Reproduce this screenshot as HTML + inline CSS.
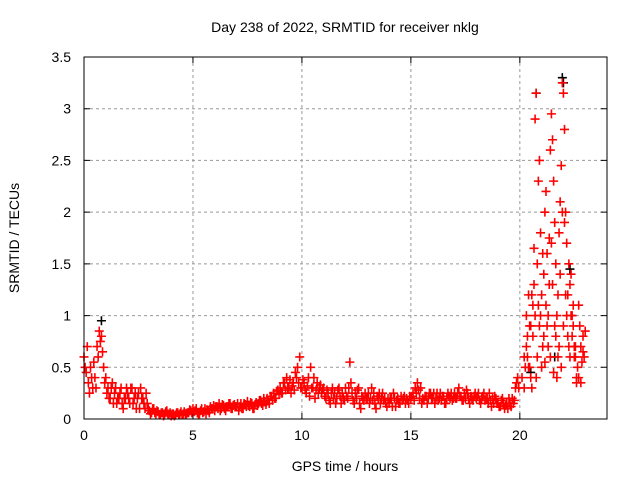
<!DOCTYPE html>
<html><head><meta charset="utf-8"><style>
body{margin:0;background:#fff}
svg text{font-family:"Liberation Sans",sans-serif;font-size:14px;fill:#000}
</style></head><body>
<svg id="chart" width="640" height="480">
<text x="345" y="32" text-anchor="middle">Day 238 of 2022, SRMTID for receiver nklg</text>
<text x="345" y="471" text-anchor="middle">GPS time / hours</text>
<text transform="translate(19,238) rotate(-90)" text-anchor="middle">SRMTID / TECUs</text>
<g id="grid"></g><g id="ticks"></g><g id="black"></g><g id="red"></g>
<rect x="84" y="57" width="523" height="362" fill="none" stroke="#000"/>
</svg>
<script>
const xTicks=[0,5,10,15,20];
const yTicks=[0,0.5,1,1.5,2,2.5,3,3.5];
const yTickLabels=["0","0.5","1","1.5","2","2.5","3","3.5"];
const baseStart=0, baseStep=0.1;
const baseValues=[0.6,0.45,0.35,0.5,0.3,0.4,0.7,0.85,0.8,0.5,
0.4,0.3,0.2,0.35,0.25,0.15,0.2,0.3,0.1,0.2,
0.25,0.15,0.3,0.2,0.1,0.25,0.3,0.2,0.1,0.15,
0.08,0.06,0.1,0.05,0.07,0.04,0.06,0.05,0.08,0.04,
0.03,0.05,0.04,0.06,0.05,0.04,0.07,0.05,0.06,0.08,
0.1,0.08,0.06,0.05,0.1,0.07,0.05,0.08,0.12,0.1,
0.08,0.12,0.15,0.1,0.13,0.08,0.12,0.15,0.1,0.14,
0.12,0.08,0.15,0.1,0.14,0.17,0.12,0.15,0.1,0.16,
0.15,0.18,0.13,0.17,0.2,0.15,0.22,0.25,0.2,0.28,
0.3,0.25,0.35,0.4,0.3,0.25,0.35,0.45,0.5,0.6,
0.3,0.35,0.25,0.4,0.5,0.3,0.2,0.35,0.3,0.25,
0.3,0.2,0.25,0.15,0.3,0.25,0.2,0.3,0.15,0.2,
0.3,0.2,0.55,0.25,0.15,0.2,0.3,0.1,0.2,0.25,
0.2,0.15,0.3,0.25,0.1,0.2,0.15,0.25,0.2,0.12,
0.15,0.2,0.25,0.12,0.2,0.15,0.18,0.22,0.2,0.15,
0.2,0.25,0.3,0.35,0.2,0.15,0.18,0.22,0.2,0.25,
0.2,0.15,0.25,0.2,0.18,0.22,0.15,0.25,0.2,0.18,
0.25,0.2,0.3,0.22,0.18,0.2,0.25,0.15,0.2,0.22,
0.2,0.25,0.15,0.22,0.18,0.2,0.25,0.12,0.15,0.2,
0.15,0.12,0.2,0.1,0.15,0.2,0.12,0.15,0.3,0.4];
const baseValues2=[0.5,0.7,0.25,0.4,0.55,0.3,0.6,0.75,0.65,0.35,
0.25,0.2,0.3,0.15,0.3,0.2,0.25,0.15,0.2,0.3,
0.2,0.3,0.15,0.25,0.2,0.1,0.2,0.15,0.25,0.1,
0.05,0.1,0.06,0.08,0.04,0.06,0.03,0.07,0.05,0.06,
0.05,0.03,0.06,0.04,0.07,0.05,0.04,0.06,0.09,0.06,
0.07,0.1,0.05,0.08,0.06,0.1,0.09,0.06,0.1,0.13,
0.12,0.1,0.08,0.14,0.1,0.12,0.15,0.1,0.13,0.12,
0.15,0.12,0.1,0.15,0.12,0.13,0.16,0.1,0.14,0.13,
0.18,0.15,0.2,0.14,0.18,0.22,0.18,0.2,0.27,0.24,
0.25,0.35,0.28,0.3,0.38,0.32,0.28,0.4,0.35,0.3,
0.38,0.28,0.32,0.22,0.3,0.4,0.28,0.25,0.33,0.28,
0.22,0.28,0.18,0.25,0.2,0.15,0.28,0.22,0.25,0.18,
0.22,0.3,0.35,0.18,0.25,0.28,0.15,0.22,0.18,0.2,
0.25,0.2,0.18,0.15,0.22,0.25,0.2,0.18,0.15,0.2,
0.2,0.12,0.2,0.18,0.15,0.22,0.2,0.15,0.18,0.22,
0.22,0.18,0.25,0.28,0.3,0.2,0.22,0.15,0.25,0.2,
0.25,0.2,0.18,0.25,0.22,0.15,0.2,0.22,0.25,0.2,
0.2,0.25,0.22,0.18,0.25,0.28,0.2,0.22,0.18,0.25,
0.22,0.18,0.2,0.25,0.2,0.15,0.18,0.2,0.22,0.15,
0.12,0.18,0.15,0.13,0.1,0.15,0.2,0.18,0.35,0.3];
const stormT=[20.1,20.2,20.3,20.35,20.4,20.45,20.5,20.55,20.6,20.65,20.7,20.75,20.8,20.85,20.9,20.95,21.0,21.05,21.1,21.15,21.2,21.25,21.3,21.35,21.4,21.45,21.5,21.55,21.6,21.65,21.7,21.75,21.8,21.85,21.9,21.95,22.0,22.05,22.1,22.15,22.2,22.25,22.3,22.35,22.4,22.45,22.5,22.55,22.6,22.65,
20.2,20.3,20.4,20.5,20.6,20.7,20.8,20.9,21.0,21.1,21.2,21.3,21.4,21.5,21.6,21.7,21.8,21.9,22.0,22.1,22.2,22.3,22.4,22.5,22.6,
20.25,20.45,20.65,20.85,21.05,21.25,21.45,21.65,21.85,22.05,22.25,22.45,22.55,
22.7,22.75,22.8,22.85,22.9,22.95,23.0,22.7,22.8,22.9,
20.35,20.55,20.75,20.95,21.15,21.35,21.55,21.75,21.95,22.15,22.35];
const stormV=[0.4,0.6,1.0,0.8,1.2,0.5,0.9,0.3,1.1,1.65,2.9,3.15,1.5,2.3,2.5,1.8,1.2,0.7,1.4,2.0,2.2,1.6,1.0,1.3,2.6,2.95,2.7,2.3,1.9,1.5,1.0,0.6,1.8,2.1,2.45,3.25,3.15,2.8,2.0,1.7,1.2,1.5,1.3,1.0,0.8,1.1,0.6,0.7,0.4,0.5,
0.3,0.7,0.5,0.4,0.8,1.0,0.6,0.9,0.5,0.8,1.1,0.7,0.6,1.3,0.9,0.4,0.7,0.5,0.9,1.2,0.8,0.6,1.0,0.7,0.35,
0.5,0.9,1.3,1.1,1.6,0.9,1.7,0.8,1.4,1.9,0.7,0.9,0.6,
1.1,0.9,0.7,0.55,0.8,0.6,0.85,0.4,0.35,0.65,
0.6,1.2,0.4,1.0,0.55,1.75,0.45,1.2,2.0,1.0,1.4];
const blackT=[0.8,20.75,21.95,22.0,20.5,21.6,22.3];
const blackV=[0.95,3.15,3.3,3.25,0.45,0.6,1.45];
const X0=84,X1=607,Y0=419,Y1=57,XMAX=24,YMAX=3.5;
const xs=t=>X0+(X1-X0)*t/XMAX, ys=v=>Y0-(Y0-Y1)*v/YMAX;
const NS="http://www.w3.org/2000/svg";
function mk(tag,attrs,parent){const e=document.createElementNS(NS,tag);for(const k in attrs)e.setAttribute(k,attrs[k]);parent.appendChild(e);return e;}
const grid=document.getElementById('grid'),ticks=document.getElementById('ticks');
xTicks.forEach(t=>{const x=xs(t);
 if(t>0){const g=mk('line',{x1:x,x2:x,y1:Y1,y2:Y0,stroke:'#999','stroke-dasharray':'3,3'},grid);}
 const tk=mk('path',{d:`M${x},${Y0}v-6M${x},${Y1}v6`,stroke:'#000'},ticks);
 const l=mk('text',{x:x,y:Y0+21,'text-anchor':'middle'},ticks);l.textContent=String(t);});
yTicks.forEach((v,i)=>{const y=ys(v);
 if(v>0&&v<YMAX){const g=mk('line',{x1:X0,x2:X1,y1:y,y2:y,stroke:'#999','stroke-dasharray':'3,3'},grid);}
 const tk=mk('path',{d:`M${X0},${y}h6M${X1},${y}h-6`,stroke:'#000'},ticks);
 const l=mk('text',{x:X0-13,y:y+5,'text-anchor':'end'},ticks);l.textContent=yTickLabels[i];});
function plus(t,v,color,parent,name){const x=xs(t),y=ys(v);
 const p=mk('path',{d:`M${x-4.5},${y}h9M${x},${y-4.5}v9`,stroke:color,'stroke-width':1.6},parent);
 
 }
const black=document.getElementById('black'),red=document.getElementById('red');
blackT.forEach((t,i)=>plus(t,blackV[i],'#000',black,'black-point'));
baseValues.forEach((v,i)=>plus(baseStart+i*baseStep,v,'#f00',red,'red-point'));
baseValues2.forEach((v,i)=>plus(baseStart+i*baseStep+0.05,v,'#f00',red,'red-point'));
stormT.forEach((t,i)=>plus(t,stormV[i],'#f00',red,'red-point'));
</script>
</body></html>
